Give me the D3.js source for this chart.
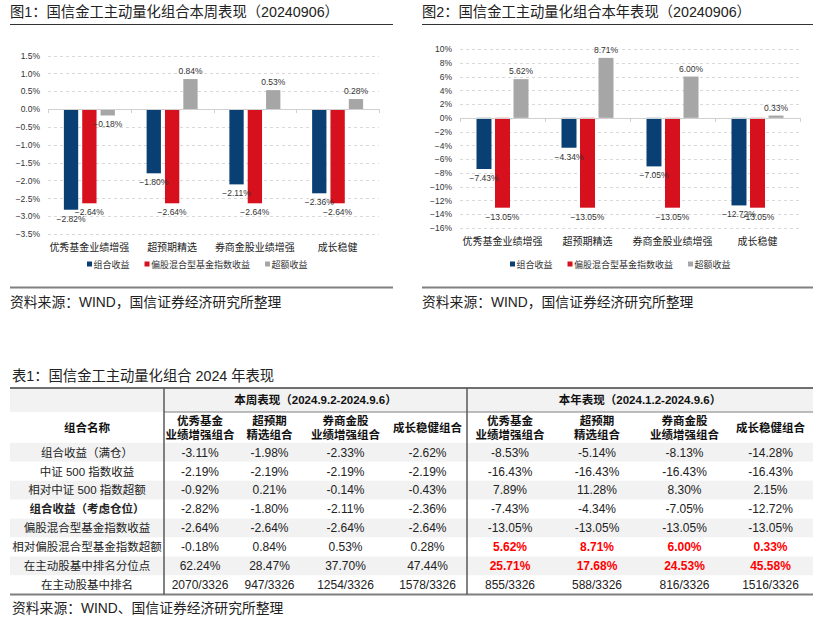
<!DOCTYPE html>
<html><head><meta charset="utf-8">
<script src="https://cdn.jsdelivr.net/npm/d3@7"></script>
<style>
body{margin:0;background:#fff}
svg{display:block}
text{font-family:"Liberation Sans","Noto Sans CJK SC",Arial,sans-serif}
</style>
</head><body><svg id="c" width="820" height="627"></svg>
<script>
// ---------- DATA ----------
const categories = ["优秀基金业绩增强", "超预期精选", "券商金股业绩增强", "成长稳健"];
const seriesNames = ["组合收益", "偏股混合型基金指数收益", "超额收益"];
// Figure 1: week
const weekPortfolio = [-2.82, -1.80, -2.11, -2.36];
const weekIndex = [-2.64, -2.64, -2.64, -2.64];
const weekExcess = [-0.18, 0.84, 0.53, 0.28];
const weekTicks = [1.5, 1.0, 0.5, 0.0, -0.5, -1.0, -1.5, -2.0, -2.5, -3.0, -3.5];
// Figure 2: year
const yearPortfolio = [-7.43, -4.34, -7.05, -12.72];
const yearIndex = [-13.05, -13.05, -13.05, -13.05];
const yearExcess = [5.62, 8.71, 6.00, 0.33];
const yearTicks = [10, 8, 6, 4, 2, 0, -2, -4, -6, -8, -10, -12, -14, -16];

const fig1Title = "图1：国信金工主动量化组合本周表现（20240906）";
const fig2Title = "图2：国信金工主动量化组合本年表现（20240906）";
const figSource = "资料来源：WIND，国信证券经济研究所整理";

// Table
const tableTitle = "表1：国信金工主动量化组合 2024 年表现";
const tableSource = "资料来源：WIND、国信证券经济研究所整理";
const nameHeader = "组合名称";
const periodHeaders = ["本周表现（2024.9.2-2024.9.6）", "本年表现（2024.1.2-2024.9.6）"];
const portfolioHeaders = [["优秀基金", "业绩增强组合"], ["超预期", "精选组合"], ["券商金股", "业绩增强组合"], ["成长稳健组合"]];
const rowLabels = ["组合收益（满仓）", "中证 500 指数收益", "相对中证 500 指数超额", "组合收益（考虑仓位）",
  "偏股混合型基金指数收益", "相对偏股混合型基金指数超额", "在主动股基中排名分位点", "在主动股基中排名"];
const boldRowLabels = [3];
const weekTable = [
  ["-3.11%", "-2.19%", "-0.92%", "-2.82%", "-2.64%", "-0.18%", "62.24%", "2070/3326"],
  ["-1.98%", "-2.19%", "0.21%", "-1.80%", "-2.64%", "0.84%", "28.47%", "947/3326"],
  ["-2.33%", "-2.19%", "-0.14%", "-2.11%", "-2.64%", "0.53%", "37.70%", "1254/3326"],
  ["-2.62%", "-2.19%", "-0.43%", "-2.36%", "-2.64%", "0.28%", "47.44%", "1578/3326"]
];
const yearTable = [
  ["-8.53%", "-16.43%", "7.89%", "-7.43%", "-13.05%", "5.62%", "25.71%", "855/3326"],
  ["-5.14%", "-16.43%", "11.28%", "-4.34%", "-13.05%", "8.71%", "17.68%", "588/3326"],
  ["-8.13%", "-16.43%", "8.30%", "-7.05%", "-13.05%", "6.00%", "24.53%", "816/3326"],
  ["-14.28%", "-16.43%", "2.15%", "-12.72%", "-13.05%", "0.33%", "45.58%", "1516/3326"]
];
const yearHighlightRows = [5, 6];

// ---------- STYLE ----------
const colors = ["#0A3F73", "#D7101E", "#A6A6A6"];
const svg = d3.select("#c");

function drawChart(cfg) {
  const g = svg.append("g");
  // title
  g.append("text").attr("x", cfg.left).attr("y", 12).attr("dominant-baseline", "central")
    .attr("font-size", 14.3).attr("fill", "#222").text(cfg.title);
  g.append("line").attr("x1", cfg.left).attr("x2", cfg.right).attr("y1", 24.5).attr("y2", 24.5)
    .attr("stroke", "#333").attr("stroke-width", 1);

  const y = d3.scaleLinear().domain(cfg.domain).range([cfg.yBottom, cfg.yTop]);
  const x = d3.scaleBand().domain(categories).range([cfg.x0, cfg.x1]);
  const inner = d3.scaleBand().domain(d3.range(3)).range([-cfg.group / 2, cfg.group / 2]).paddingInner(cfg.pad);

  // gridlines
  g.append("g").selectAll("line").data(cfg.ticks.filter(t => t !== 0)).join("line")
    .attr("x1", cfg.x0).attr("x2", cfg.x1)
    .attr("y1", d => Math.round(y(d)) + 0.5).attr("y2", d => Math.round(y(d)) + 0.5)
    .attr("stroke", "#D9D9D9").attr("stroke-dasharray", "3,3");

  // y axis labels
  const ax = g.append("g").attr("transform", `translate(${cfg.labelX},0)`)
    .call(d3.axisLeft(y).tickValues(cfg.ticks).tickSize(0).tickPadding(0).tickFormat(cfg.tickFmt));
  ax.select(".domain").remove();
  ax.selectAll("text").attr("font-size", 8.5).attr("fill", "#333")
    .style("font-family", '"Liberation Sans",Arial,sans-serif');

  // bars
  const series = cfg.series;
  series.forEach((vals, si) => {
    g.append("g").selectAll("rect").data(vals).join("rect")
      .attr("x", (d, i) => x(categories[i]) + x.bandwidth() / 2 + inner(si))
      .attr("width", inner.bandwidth())
      .attr("y", d => Math.min(y(d), y(0)))
      .attr("height", d => Math.abs(y(d) - y(0)))
      .attr("fill", colors[si]);
  });

  // zero line and category ticks
  g.append("line").attr("x1", cfg.x0).attr("x2", cfg.x1)
    .attr("y1", Math.round(y(0)) + 0.5).attr("y2", Math.round(y(0)) + 0.5)
    .attr("stroke", "#D0D0D0").attr("stroke-width", 1);
  const bounds = categories.map(c => x(c)).concat([cfg.x1]);
  g.append("g").selectAll("line").data(bounds).join("line")
    .attr("x1", d => Math.round(d) + 0.5).attr("x2", d => Math.round(d) + 0.5)
    .attr("y1", y(0)).attr("y2", y(0) + 4).attr("stroke", "#D0D0D0");

  // data labels
  series.forEach((vals, si) => {
    g.append("g").selectAll("text").data(vals).join("text")
      .attr("x", (d, i) => x(categories[i]) + x.bandwidth() / 2 + inner(si) + inner.bandwidth() / 2)
      .attr("y", d => d < 0 ? y(d) + 9 : y(d) - 8)
      .attr("text-anchor", "middle").attr("dominant-baseline", "central")
      .attr("font-size", 8.5).attr("fill", "#333")
      .text(d => d3.format(".2f")(d) + "%");
  });

  // category labels
  g.append("g").selectAll("text").data(categories).join("text")
    .attr("x", d => x(d) + x.bandwidth() / 2).attr("y", cfg.yBottom + 13)
    .attr("text-anchor", "middle").attr("dominant-baseline", "central")
    .attr("font-size", 10).attr("fill", "#222").text(d => d);

  // legend
  let lx = cfg.legendX;
  seriesNames.forEach((n, i) => {
    g.append("rect").attr("x", lx).attr("y", 261.5).attr("width", 5).attr("height", 5).attr("fill", colors[i]);
    const t = g.append("text").attr("x", lx + 6.5).attr("y", 264.5).attr("dominant-baseline", "central")
      .attr("font-size", 9).attr("fill", "#333").text(n);
    lx += 6.5 + t.node().getComputedTextLength() + 15;
  });

  // bottom rule & source
  g.append("line").attr("x1", cfg.left).attr("x2", cfg.right).attr("y1", 287.5).attr("y2", 287.5)
    .attr("stroke", "#808080").attr("stroke-width", 2);
  g.append("text").attr("x", cfg.left).attr("y", 302.5).attr("dominant-baseline", "central")
    .attr("font-size", 13.8).attr("fill", "#222").text(figSource);
}

drawChart({
  title: fig1Title, left: 10, right: 393, x0: 48, x1: 379, yTop: 55.5, yBottom: 234,
  domain: [-3.5, 1.5], ticks: weekTicks, tickFmt: d => d3.format(".1f")(d) + "%", labelX: 40,
  series: [weekPortfolio, weekIndex, weekExcess], group: 51, pad: 0.22, legendX: 87
});
drawChart({
  title: fig2Title, left: 422, right: 813, x0: 460, x1: 800, yTop: 49, yBottom: 228,
  domain: [-16, 10], ticks: yearTicks, tickFmt: d => d3.format("d")(d) + "%", labelX: 452,
  series: [yearPortfolio, yearIndex, yearExcess], group: 52, pad: 0.19, legendX: 510
});

// ---------- TABLE ----------
const T = svg.append("g");
const tLeft = 10, tRight = 813, tTop = 388, h1Bottom = 412, h2Bottom = 442.8, rowH = 18.95;
const colEdges = [tLeft, 164, 236, 303, 388, 467, 553, 641, 728, tRight];
const colCenter = i => (colEdges[i] + colEdges[i + 1]) / 2;
const tBottom = h2Bottom + rowH * rowLabels.length;

T.append("text").attr("x", 12).attr("y", 375.5).attr("dominant-baseline", "central")
  .attr("font-size", 14.3).attr("fill", "#222").text(tableTitle);

// backgrounds
T.append("rect").attr("x", tLeft).attr("y", tTop).attr("width", tRight - tLeft).attr("height", h1Bottom - tTop).attr("fill", "#F2F2F2");
T.append("g").selectAll("rect").data(rowLabels).join("rect")
  .attr("x", tLeft).attr("width", tRight - tLeft)
  .attr("y", (d, i) => h2Bottom + i * rowH).attr("height", rowH)
  .attr("fill", (d, i) => i % 2 === 0 ? "#F2F2F2" : "#FFFFFF");

// lines
T.append("line").attr("x1", tLeft).attr("x2", tRight).attr("y1", tTop).attr("y2", tTop).attr("stroke", "#404040").attr("stroke-width", 1.5);
T.append("line").attr("x1", colEdges[1]).attr("x2", tRight).attr("y1", h1Bottom).attr("y2", h1Bottom).attr("stroke", "#7F7F7F").attr("stroke-width", 1);
T.append("line").attr("x1", tLeft).attr("x2", tRight).attr("y1", tBottom).attr("y2", tBottom).attr("stroke", "#7F7F7F").attr("stroke-width", 2);
[colEdges[1], colEdges[5]].forEach(xv => {
  T.append("line").attr("x1", xv).attr("x2", xv).attr("y1", tTop).attr("y2", tBottom).attr("stroke", "#595959").attr("stroke-width", 1.5);
});

// headers
T.append("text").attr("x", colCenter(0)).attr("y", 428).attr("text-anchor", "middle").attr("dominant-baseline", "central")
  .attr("font-size", 11.5).attr("font-weight", "bold").attr("fill", "#111").text(nameHeader);
periodHeaders.forEach((p, k) => {
  T.append("text").attr("x", (colEdges[1 + 4 * k] + colEdges[5 + 4 * k]) / 2).attr("y", 400)
    .attr("text-anchor", "middle").attr("dominant-baseline", "central")
    .attr("font-size", 11.5).attr("font-weight", "bold").attr("fill", "#111").text(p);
  portfolioHeaders.forEach((lines, j) => {
    const cx = colCenter(1 + 4 * k + j);
    lines.forEach((ln, li) => {
      const yy = lines.length === 1 ? 428 : 420.7 + li * 14.3;
      T.append("text").attr("x", cx).attr("y", yy).attr("text-anchor", "middle").attr("dominant-baseline", "central")
        .attr("font-size", 11.5).attr("font-weight", "bold").attr("fill", "#111").text(ln);
    });
  });
});

// row labels
T.append("g").selectAll("text").data(rowLabels).join("text")
  .attr("x", colCenter(0)).attr("y", (d, i) => h2Bottom + i * rowH + rowH / 2 + 0.3)
  .attr("text-anchor", "middle").attr("dominant-baseline", "central")
  .attr("font-size", 11.5).attr("font-weight", (d, i) => boldRowLabels.includes(i) ? "bold" : "normal")
  .attr("fill", "#222").text(d => d);

// values
[weekTable, yearTable].forEach((tbl, k) => {
  tbl.forEach((col, j) => {
    T.append("g").selectAll("text").data(col).join("text")
      .attr("x", colCenter(1 + 4 * k + j))
      .attr("y", (d, i) => h2Bottom + i * rowH + rowH / 2 + 0.3)
      .attr("text-anchor", "middle").attr("dominant-baseline", "central")
      .attr("font-size", 12)
      .attr("font-weight", (d, i) => k === 1 && yearHighlightRows.includes(i) ? "bold" : "normal")
      .attr("fill", (d, i) => k === 1 && yearHighlightRows.includes(i) ? "#FF0000" : "#222")
      .text(d => d);
  });
});

T.append("text").attr("x", 12).attr("y", 608.5).attr("dominant-baseline", "central")
  .attr("font-size", 13.8).attr("fill", "#222").text(tableSource);
</script></body></html>
